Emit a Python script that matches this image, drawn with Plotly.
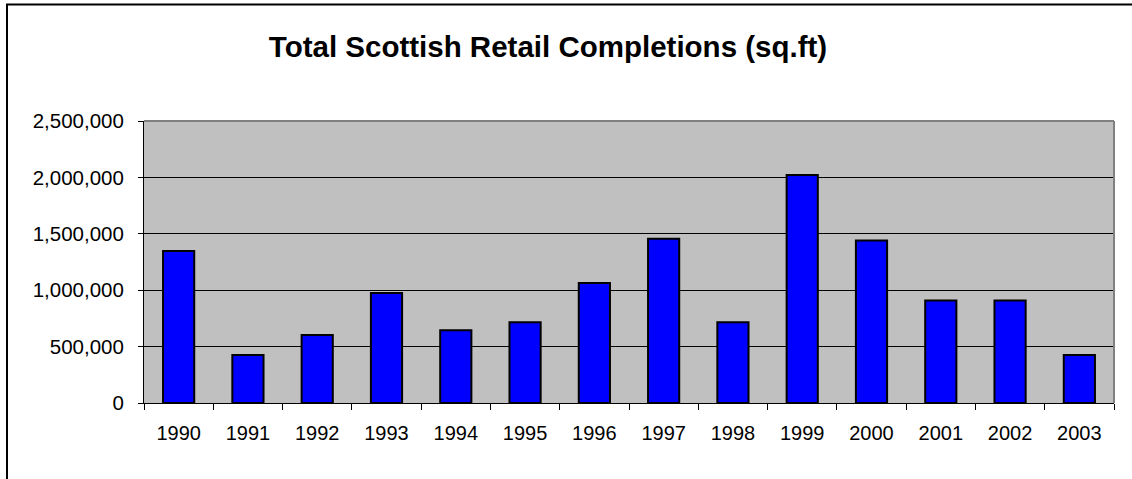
import plotly.graph_objects as go

years = ["1990", "1991", "1992", "1993", "1994", "1995", "1996",
         "1997", "1998", "1999", "2000", "2001", "2002", "2003"]
completions = [1347000, 426000, 603000, 975000, 644000, 715000, 1064000,
               1457000, 715000, 2021000, 1440000, 908000, 908000, 426000]
y_ticks = [0, 500000, 1000000, 1500000, 2000000, 2500000]

W, H = 1132, 479
L, R, T, B = 144, 18, 121, 76
pw, ph = W - L - R, H - T - B

fig = go.Figure(go.Bar(
    x=years, y=completions,
    marker=dict(color="#0000FF", line=dict(color="#000000", width=2)),
))

font = "Liberation Sans, Arial, sans-serif"

fig.update_layout(
    width=W, height=H,
    margin=dict(l=L, r=R, t=T, b=B),
    paper_bgcolor="white",
    plot_bgcolor="#C0C0C0",
    bargap=0.55,
    showlegend=False,
    title=dict(
        text="Total Scottish Retail Completions (sq.ft)",
        x=548 / W, xref="container", xanchor="center",
        y=1 - 47 / H, yref="container", yanchor="middle",
        font=dict(family=font, size=29.5, color="#000000", weight="bold"),
    ),
    xaxis=dict(
        type="category",
        showline=True, linecolor="#000000", linewidth=1,
        ticks="outside", tickson="boundaries", ticklen=6, tickcolor="#000000",
        tickwidth=1,
        showgrid=False,
        tickfont=dict(family=font, size=20, color="#000000"),
        ticklabelstandoff=12,
    ),
    yaxis=dict(
        range=[0, 2500000],
        tickvals=y_ticks,
        tickformat=",",
        showline=True, linecolor="#000000", linewidth=1,
        ticks="outside", ticklen=5, tickcolor="#000000", tickwidth=1,
        showgrid=True, gridcolor="#000000", gridwidth=1,
        zeroline=False,
        tickfont=dict(family=font, size=20.5, color="#000000"),
        ticklabelstandoff=10,
    ),
    shapes=[
        # plot area top and right border (gray)
        dict(type="line", xref="paper", yref="paper", x0=0, x1=1, y0=1, y1=1,
             line=dict(color="#808080", width=2)),
        dict(type="line", xref="paper", yref="paper", x0=1, x1=1, y0=0, y1=1,
             line=dict(color="#808080", width=2)),
        # chart outer border
        dict(type="rect", xref="paper", yref="paper",
             x0=(7 - L) / pw, x1=(1140 - L) / pw,
             y0=(H - B - 490) / ph, y1=(H - B - 4.5) / ph,
             line=dict(color="#000000", width=2)),
    ],
)

fig.write_html(
    "out.html",
    config={"displayModeBar": False},
    post_script="document.body.style.margin='0px';",
)
